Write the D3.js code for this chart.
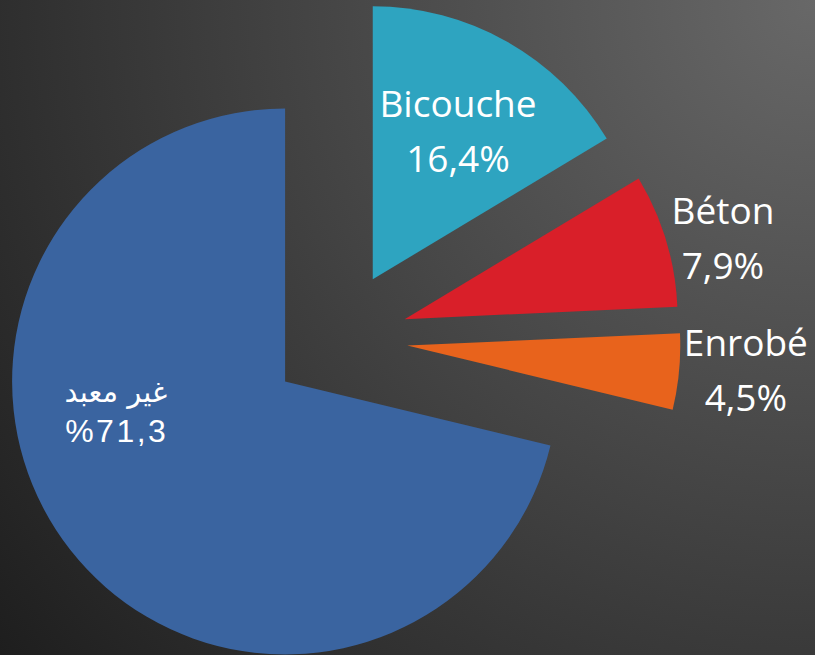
<!DOCTYPE html>
<html>
<head>
<meta charset="utf-8">
<script src="https://cdn.jsdelivr.net/npm/d3@7"></script>
<style>
  body { margin: 0; background: #1e1e1e; }
  svg { display: block; }
</style>
</head>
<body>
<svg id="pie-chart" width="815" height="655"></svg>
<script>
// data
var categories = ["Bicouche", "Béton", "Enrobé", "غير معبد"];
var shares = [16.4, 7.9, 4.5, 71.3];
var shareLabels = ["16,4%", "7,9%", "4,5%", "%71,3"];
var colors = ["#2ea4c0", "#d91f29", "#e8631c", "#3a64a0"];

// layout
var cx = 339, cy = 339,
    radius = 273,
    explode = 68.6;
// label placement relative to each exploded slice: radius factor, angle shift (deg)
var labelK = [0.583, 1.192, 1.248, 0.638];
var labelShift = [2.9, 4.8, 0.9, 24.7];

var svg = d3.select('#pie-chart'),
    width = +svg.attr('width'),
    height = +svg.attr('height');

var defs = svg.append('defs');
var grad = defs.append('radialGradient')
    .attr('id', 'bg')
    .attr('gradientUnits', 'userSpaceOnUse')
    .attr('cx', width).attr('cy', 0).attr('r', 1045);
grad.append('stop').attr('offset', '0%').attr('stop-color', '#686868');
grad.append('stop').attr('offset', '100%').attr('stop-color', '#1e1e1e');

svg.append('rect')
    .attr('width', width)
    .attr('height', height)
    .attr('fill', 'url(#bg)');

var pie = d3.pie().value(d => d).sort(null);
var arcs = pie(shares);

var path = d3.arc().outerRadius(radius).innerRadius(0);

function offset(d) {
    var mid = (d.startAngle + d.endAngle) / 2;
    return [cx + explode * Math.sin(mid), cy - explode * Math.cos(mid)];
}

var g = svg.append('g');

var slice = g.selectAll('.arc')
    .data(arcs)
    .enter()
    .append('g')
    .attr('class', 'arc')
    .attr('transform', d => 'translate(' + offset(d) + ')');

slice.append('path')
    .attr('d', path)
    .attr('fill', (d, i) => colors[i]);

// labels
var labels = svg.append('g')
    .attr('fill', '#ffffff')
    .attr('text-anchor', 'middle');

arcs.forEach(function (d, i) {
    var o = offset(d);
    var a = (d.startAngle + d.endAngle) / 2 + labelShift[i] * Math.PI / 180;
    var r = radius * labelK[i];
    var x = o[0] + r * Math.sin(a),
        y = o[1] - r * Math.cos(a);
    var arabic = i === 3;
    var half = arabic ? 20 : 27.5;

    labels.append('text')
        .attr('x', x)
        .attr('y', y - half)
        .attr('font-family', arabic ? '"DejaVu Sans", sans-serif' : '"Open Sans", sans-serif')
        .attr('font-size', arabic ? 29 : 37)
        .text(categories[i]);

    labels.append('text')
        .attr('x', x + (arabic ? 1 : 0))
        .attr('y', y + half)
        .attr('font-family', arabic ? '"Liberation Sans", Arial, sans-serif' : '"Open Sans", sans-serif')
        .attr('font-size', arabic ? 32 : 37)
        .attr('letter-spacing', arabic ? 2.5 : 0)
        .text(shareLabels[i]);
});
</script>
</body>
</html>
